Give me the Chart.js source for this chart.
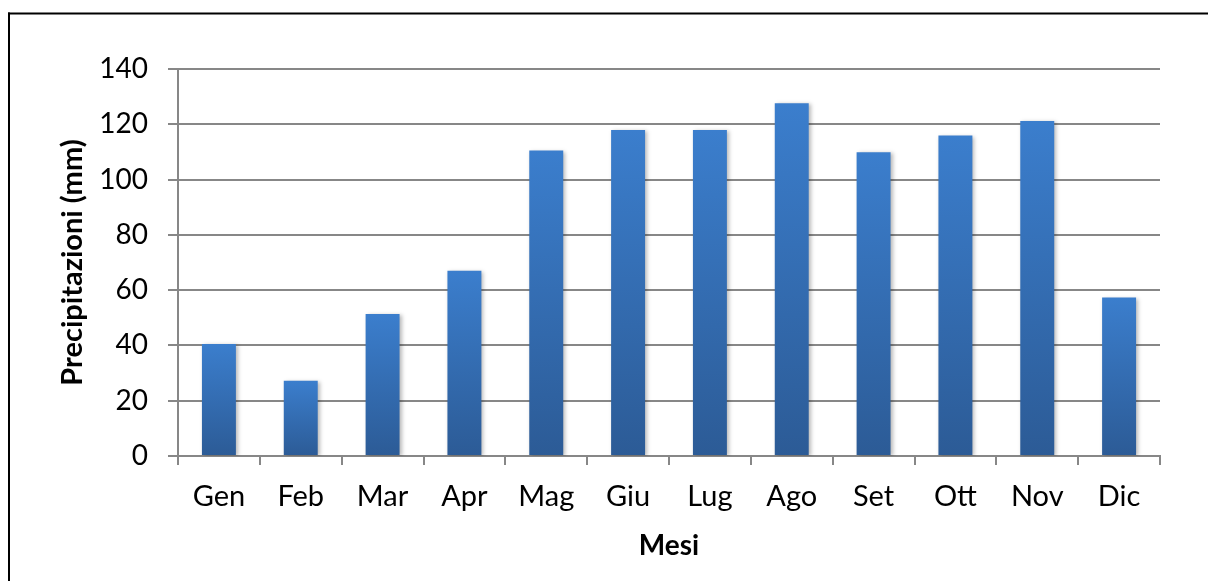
<!DOCTYPE html>
<html>
<head>
<meta charset="utf-8">
<script src="https://cdn.jsdelivr.net/npm/chart.js@4"></script>
<style>
  html, body { margin: 0; padding: 0; background: #fff; }
  #wrap { position: relative; width: 1208px; height: 581px; }
</style>
</head>
<body>
<div id="wrap"><canvas id="c" width="1208" height="581"></canvas></div>
<script>
// Monthly precipitation (mm)
const months = ['Gen', 'Feb', 'Mar', 'Apr', 'Mag', 'Giu', 'Lug', 'Ago', 'Set', 'Ott', 'Nov', 'Dic'];
const rainfall = [40.5, 27.2, 51.4, 67.0, 110.5, 117.9, 117.9, 127.6, 109.9, 115.9, 121.2, 57.3];
const yTicks = [0, 20, 40, 60, 80, 100, 120, 140];

const GRID = '#878787';
const FONT = 'Lato, "Open Sans", sans-serif';

// Vertical gradient per bar, lighter at the top
function barGradient(ctx) {
  const chart = ctx.chart;
  const y = chart.scales.y;
  if (!y || ctx.raw === undefined) return '#3470b8';
  const top = y.getPixelForValue(ctx.raw);
  const base = y.getPixelForValue(0);
  if (!isFinite(top) || !isFinite(base) || top === base) return '#3470b8';
  const g = chart.ctx.createLinearGradient(0, top, 0, base);
  g.addColorStop(0, '#3b7ecd');
  g.addColorStop(1, '#2c5b96');
  return g;
}

// Outer frame (top and left edges)
const framePlugin = {
  id: 'frame',
  beforeDraw(chart) {
    const c = chart.ctx;
    c.save();
    c.fillStyle = '#000';
    c.fillRect(8, 12.5, 1200, 2);
    c.fillRect(8, 12.5, 2, 581);
    c.restore();
  }
};

// Soft drop shadow under the bars
const shadowPlugin = {
  id: 'barShadow',
  beforeDatasetDraw(chart) {
    const c = chart.ctx;
    c.save();
    c.shadowColor = 'rgba(0,0,0,0.28)';
    c.shadowBlur = 4;
    c.shadowOffsetX = 2;
    c.shadowOffsetY = 1;
  },
  afterDatasetDraw(chart) {
    chart.ctx.restore();
  }
};

new Chart(document.getElementById('c'), {
  type: 'bar',
  data: {
    labels: months,
    datasets: [{
      data: rainfall,
      backgroundColor: barGradient,
      borderWidth: 0,
      barPercentage: 0.415,
      categoryPercentage: 1
    }]
  },
  options: {
    responsive: false,
    animation: false,
    events: [],
    layout: { padding: { left: 55, top: 69, right: 48, bottom: 18 } },
    plugins: { legend: { display: false }, tooltip: { enabled: false } },
    scales: {
      x: {
        grid: { display: true, drawOnChartArea: false, offset: true, color: GRID, lineWidth: 2, tickLength: 9 },
        border: { color: GRID, width: 2 },
        ticks: { color: '#000', font: { family: FONT, size: 29 }, padding: 14, maxRotation: 0 },
        title: { display: true, text: 'Mesi', color: '#000', font: { family: FONT, size: 28, weight: 'bold' }, padding: 0 },
        afterFit(scale) { scale.height = 107; }
      },
      y: {
        min: 0,
        max: 140,
        afterBuildTicks(scale) { scale.ticks = yTicks.map(v => ({ value: v })); },
        grid: { color: GRID, lineWidth: 2, tickLength: 10 },
        border: { color: GRID, width: 2 },
        ticks: { color: '#000', font: { family: FONT, size: 28 }, padding: 20 },
        title: { display: true, text: 'Precipitazioni (mm)', color: '#000', font: { family: FONT, size: 29, weight: 'bold' }, padding: 0 },
        afterFit(scale) { scale.width = 123; }
      }
    }
  },
  plugins: [framePlugin, shadowPlugin]
});
</script>
</body>
</html>
